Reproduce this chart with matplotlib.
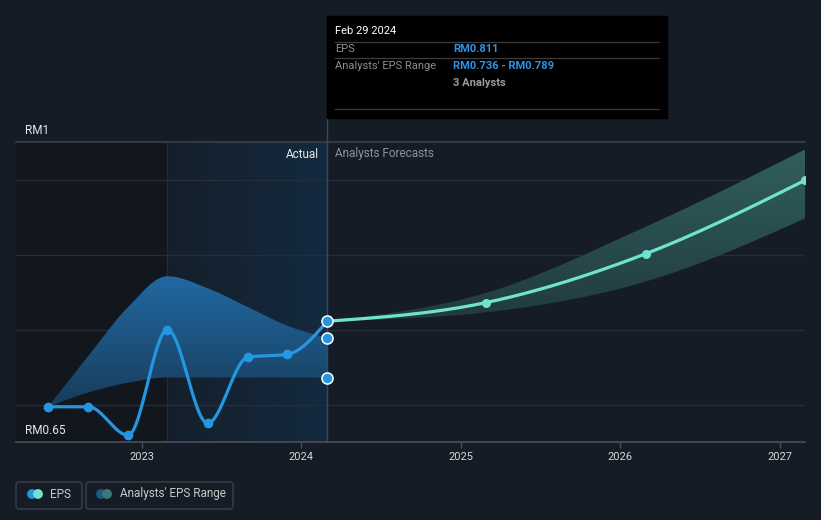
import numpy as np
import pandas as pd
import matplotlib
matplotlib.use("Agg")
import matplotlib.pyplot as plt
import matplotlib.dates as mdates
from matplotlib.patches import Rectangle, FancyBboxPatch, Circle
from matplotlib.colors import LinearSegmentedColormap

plt.rcParams['font.family'] = ['Roboto', 'DejaVu Sans']

# actual EPS (quarterly, trailing)
eps_dates = ["2022-05-31", "2022-08-31", "2022-11-30", "2023-02-28",
             "2023-05-31", "2023-08-31", "2023-11-30", "2024-02-29"]
eps_values = [0.697, 0.697, 0.659, 0.800, 0.675, 0.763, 0.767, 0.811]

# past analyst range
past_low = [0.697, 0.716, 0.729, 0.736, 0.736, 0.736, 0.736, 0.736]
past_high = [0.697, 0.765, 0.830, 0.871, 0.855, 0.830, 0.805, 0.789]

# forecasts
fc_dates = ["2024-02-29", "2025-02-28", "2026-02-28", "2027-02-28"]
fc_values = [0.811, 0.836, 0.901, 0.999]
fc_low = [0.811, 0.823, 0.864, 0.948]
fc_high = [0.811, 0.849, 0.937, 1.040]

year_ticks = ["2023", "2024", "2025", "2026", "2027"]
grid_values = [0.7, 0.8, 0.9, 1.0]

BG = "#161c26"
BLUE = "#2596e1"
TEAL = "#6fe3cd"


def monotone(xs, ys, n=60):
    # monotone cubic (like d3 curveMonotoneX), only used to draw smooth lines
    xs = np.asarray(xs, float)
    ys = np.asarray(ys, float)
    h = np.diff(xs)
    s = np.diff(ys) / h
    m = np.zeros_like(ys)
    for i in range(1, len(xs) - 1):
        p = (s[i - 1] * h[i] + s[i] * h[i - 1]) / (h[i - 1] + h[i])
        m[i] = (np.sign(s[i - 1]) + np.sign(s[i])) * min(abs(s[i - 1]), abs(s[i]), 0.5 * abs(p))
    m[0] = (3 * s[0] - m[1]) / 2
    m[-1] = (3 * s[-1] - m[-2]) / 2
    t = np.linspace(0, 1, n)
    h00 = 2 * t**3 - 3 * t**2 + 1
    h10 = t**3 - 2 * t**2 + t
    h01 = -2 * t**3 + 3 * t**2
    h11 = t**3 - t**2
    out_x, out_y = [], []
    for i in range(len(xs) - 1):
        out_x.append(xs[i] + t * h[i])
        out_y.append(h00 * ys[i] + h10 * h[i] * m[i] + h01 * ys[i + 1] + h11 * h[i] * m[i + 1])
    return np.concatenate(out_x), np.concatenate(out_y)


def gradient_fill(ax, x, lo, hi, top_color, bottom_color, y0, y1, z):
    poly = ax.fill_between(x, lo, hi, color="none", lw=0)
    cmap = LinearSegmentedColormap.from_list("g", [bottom_color, top_color])
    grad = np.linspace(0, 1, 256).reshape(-1, 1)
    im = ax.imshow(grad, cmap=cmap, aspect="auto", origin="lower",
                   extent=[x.min(), x.max(), y0, y1], zorder=z)
    im.set_clip_path(poly.get_paths()[0], transform=ax.transData)


ex = mdates.date2num(pd.to_datetime(eps_dates))
fx = mdates.date2num(pd.to_datetime(fc_dates))
x_left = mdates.date2num(pd.Timestamp("2022-03-18"))
x_right = mdates.date2num(pd.Timestamp("2027-02-28"))
x_hl = mdates.date2num(pd.Timestamp("2023-02-28"))

fig = plt.figure(figsize=(8.21, 5.2), dpi=100, facecolor=BG)
ax = fig.add_axes([16 / 821, 78 / 520, 789 / 821, 300 / 520])
ax.set_facecolor(BG)

# background regions
ax.axvspan(x_left, x_hl, color="#12161d", lw=0, zorder=0)
hl_cmap = LinearSegmentedColormap.from_list("hl", ["#151f2b", "#132a3f"])
ax.imshow(np.linspace(0, 1, 256).reshape(1, -1), cmap=hl_cmap, aspect="auto",
          extent=[x_hl, ex[-1], 0.65, 1.05], zorder=0)
ax.axvline(x_hl, color="#1c3041", lw=0.8, zorder=1)

for g in grid_values:
    ax.axhline(g, color="#262d38", lw=1, zorder=1)
ax.axhline(1.05, color="#3a414c", lw=1.2, zorder=1, clip_on=False)

# bands
bx, blo = monotone(ex, past_low)
_, bhi = monotone(ex, past_high)
gradient_fill(ax, bx, blo, bhi, "#216aa3", "#183a58", 0.69, 0.875, 2)

fbx, fblo = monotone(fx, fc_low)
_, fbhi = monotone(fx, fc_high)
gradient_fill(ax, fbx, fblo, fbhi, "#31605d", "#213a40", 0.81, 1.045, 2)

# lines
lx, ly = monotone(ex, eps_values)
ax.plot(lx, ly, color=BLUE, lw=2.3, zorder=4, solid_capstyle="round")
ax.plot(ex[:-1], eps_values[:-1], "o", color=BLUE, ms=7, mew=0, zorder=5)

flx, fly = monotone(fx, fc_values)
ax.plot(flx, fly, color=TEAL, lw=2.3, zorder=4, solid_capstyle="round")
ax.plot(fx[1:], fc_values[1:], "o", color=TEAL, ms=6.5, mew=0, zorder=5)

ax.plot([ex[-1]] * 3, [eps_values[-1], past_high[-1], past_low[-1]], "o",
        color=BLUE, ms=8, mec="white", mew=1.1, zorder=6)

ax.axvline(ex[-1], ymin=0, ymax=(442 - 118) / 300, color="#2b4d6e", lw=1,
           zorder=3, clip_on=False)

ax.set_xlim(x_left, x_right)
ax.set_ylim(0.65, 1.05)
ax.set_yticks([])
ax.set_xticks(mdates.date2num(pd.to_datetime([y + "-01-01" for y in year_ticks])))
ax.set_xticklabels(year_ticks)
ax.tick_params(axis="x", colors="#4a505a", length=4, width=1, labelcolor="#d8d8d8",
               labelsize=8, pad=3)
for side in ["top", "left", "right"]:
    ax.spines[side].set_visible(False)
ax.spines["bottom"].set_color("#4a505a")
ax.spines["bottom"].set_linewidth(1.2)

T = fig.dpi_scale_trans


def ftext(px, py, s, **kw):
    fig.text(px / 100, (520 - py) / 100, s, transform=T, va="center", **kw)


ftext(25, 130, "RM1", color="#e8e8e8", fontsize=8.5)
ftext(25, 430, "RM0.65", color="#e8e8e8", fontsize=8.5)
ftext(319, 154, "Actual", color="#e8e8e8", fontsize=8.5, ha="right")
ftext(335, 154, "Analysts Forecasts", color="#8c929b", fontsize=8.5)

# tooltip
fig.patches.append(Rectangle((327 / 100, (520 - 118) / 100), 340 / 100, 102 / 100,
                             transform=T, color="black", zorder=10))
for py in [41.5, 58, 109]:
    fig.add_artist(plt.Line2D([335 / 100, 659 / 100], [(520 - py) / 100] * 2,
                              transform=T, color="#3c3c3c", lw=0.9, zorder=11))
ftext(335, 31, "Feb 29 2024", color="white", fontsize=8, zorder=12)
ftext(335, 49.5, "EPS", color="#8e8e8e", fontsize=8, zorder=12)
ftext(453, 49.5, "RM0.811", color="#2e93e6", fontsize=8, fontweight="bold", zorder=12)
ftext(335, 66, "Analysts' EPS Range", color="#8e8e8e", fontsize=8, zorder=12)
ftext(453, 66, "RM0.736 - RM0.789", color="#2e93e6", fontsize=8, fontweight="bold", zorder=12)
ftext(453, 83, "3 Analysts", color="#9a9a9a", fontsize=8, fontweight="bold", zorder=12)

# legend
for x0, w in [(16, 66), (86, 147)]:
    fig.patches.append(FancyBboxPatch((x0 / 100, (520 - 509) / 100), w / 100, 27 / 100,
                                      boxstyle="round,pad=0,rounding_size=0.03",
                                      transform=T, facecolor="none",
                                      edgecolor="#3a404a", lw=1))
for cx, col in [(32, BLUE), (38, TEAL), (101, "#24577f"), (107, "#3b7a74")]:
    fig.patches.append(Circle((cx / 100, (520 - 494) / 100), 0.042, transform=T,
                              color=col))
ftext(50, 494, "EPS", color="#c8c8c8", fontsize=8.5)
ftext(120, 494, "Analysts' EPS Range", color="#c8c8c8", fontsize=8.5)

fig.savefig("out.png", dpi=100, facecolor=BG)
